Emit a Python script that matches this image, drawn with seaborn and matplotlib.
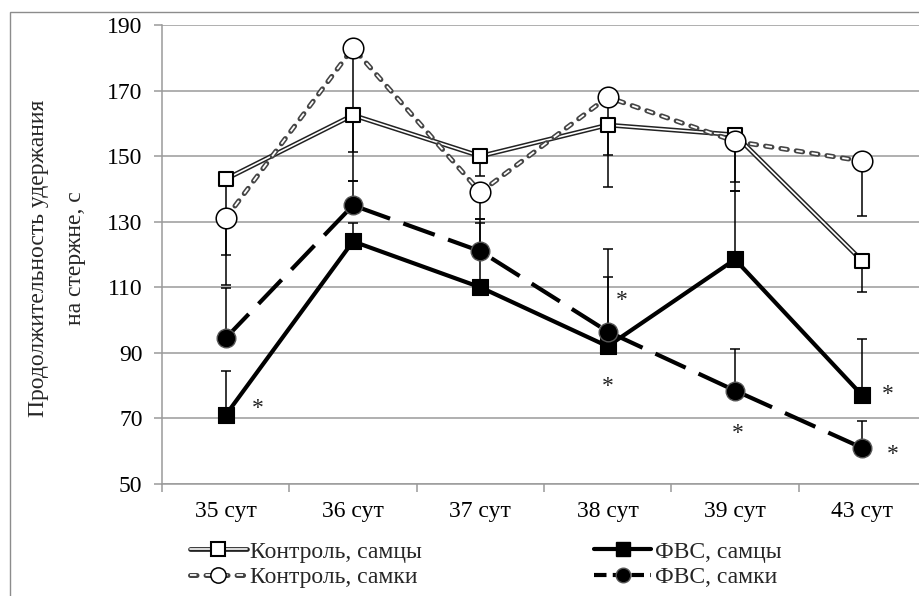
import numpy as np
import pandas as pd
import matplotlib
matplotlib.use("Agg")
import matplotlib.pyplot as plt
import matplotlib.patheffects as pe
from matplotlib.lines import Line2D
from matplotlib.patches import Rectangle
import seaborn as sns

days = ["35 сут", "36 сут", "37 сут", "38 сут", "39 сут", "43 сут"]

ctrl_m = [143, 162.5, 150, 159.5, 156.5, 118]
ctrl_f = [131, 183, 139, 168, 154.5, 148.5]
fvs_m = [71, 124, 110, 92, 118.5, 77]
fvs_f = [94.5, 135, 121, 96.5, 78.5, 61]

# one-sided error bars: controls down, FVS up
ctrl_m_err = [23, 11.2, 6, 9, 14.5, 9.4]
ctrl_f_err = [20.4, 40.6, 8.2, 27.4, 15.1, 16.7]
fvs_m_err = [13.5, 5.6, 19.6, 21, 21, 17.3]
fvs_f_err = [15.3, 7.4, 9.8, 25.2, 12.7, 8.3]

# significance marks (x in category units, y in seconds)
star_x = [0.25, 3.11, 3.0, 4.02, 5.2, 5.24]
star_y = [73.0, 106.0, 79.8, 65.5, 77.4, 59.1]

labels = ["Контроль, самцы", "Контроль, самки", "ФВС, самцы", "ФВС, самки"]

sns.set_theme(style="white")
plt.rcParams["font.family"] = ["Liberation Serif", "DejaVu Serif"]
FS = 17

df = pd.DataFrame({
    "pos": np.arange(len(days)),
    "ctrl_m": ctrl_m, "ctrl_f": ctrl_f, "fvs_m": fvs_m, "fvs_f": fvs_f,
})

fig = plt.figure(figsize=(9.19, 5.96), dpi=100)
ax = fig.add_axes([162 / 919, 112 / 596, 764 / 919, 459 / 596])

grid_c = "#9a9a9a"
for v in range(50, 191, 20):
    ax.axhline(v, color=grid_c, lw=1.1, zorder=0)

# error bars (behind markers)
pos = df["pos"].values
zeros = np.zeros(len(days))
eb = dict(fmt="none", ecolor="black", elinewidth=1.1, capsize=3.6, capthick=1.1, zorder=2)
ax.errorbar(pos, ctrl_m, yerr=[ctrl_m_err, zeros], **eb)
ax.errorbar(pos, ctrl_f, yerr=[ctrl_f_err, zeros], **eb)
ax.errorbar(pos, fvs_m, yerr=[zeros, fvs_m_err], **eb)
ax.errorbar(pos, fvs_f, yerr=[zeros, fvs_f_err], **eb)

# lines
dbl = [pe.Stroke(linewidth=3.4, foreground="#222222"), pe.Normal()]
dbl_dash = [pe.Stroke(linewidth=3.6, foreground="#444444", capstyle="round"), pe.Normal()]

sns.lineplot(data=df, x="pos", y="fvs_m", ax=ax, color="black", lw=3, zorder=3)
ax.lines[-1].set_solid_capstyle("butt")
sns.lineplot(data=df, x="pos", y="fvs_f", ax=ax, color="black", lw=3, zorder=3)
ax.lines[-1].set_linestyle((0, (8, 3.4)))
sns.lineplot(data=df, x="pos", y="ctrl_m", ax=ax, color="white", lw=1.2, zorder=4)
ax.lines[-1].set_path_effects(dbl)
sns.lineplot(data=df, x="pos", y="ctrl_f", ax=ax, color="white", lw=1.3, zorder=4)
ax.lines[-1].set_linestyle((0, (3.6, 5.0)))
ax.lines[-1].set_dash_capstyle("butt")
ax.lines[-1].set_path_effects(dbl_dash)

# markers
sns.scatterplot(data=df, x="pos", y="fvs_m", ax=ax, marker="s", s=120, color="black", edgecolor="black", linewidth=0.8, zorder=5)
sns.scatterplot(data=df, x="pos", y="fvs_f", ax=ax, marker="o", s=180, color="black", edgecolor="#555555", linewidth=1.0, zorder=5)
sns.scatterplot(data=df, x="pos", y="ctrl_m", ax=ax, marker="s", s=115, color="white", edgecolor="black", linewidth=1.5, zorder=6)
sns.scatterplot(data=df, x="pos", y="ctrl_f", ax=ax, marker="o", s=220, color="white", edgecolor="black", linewidth=1.1, zorder=6)

for sx, sy in zip(star_x, star_y):
    ax.text(sx, sy, "*", fontsize=FS, ha="center", va="center", color="#222222", zorder=7)

ax.set_xlim(-0.5, len(days) - 0.5)
ax.set_ylim(50, 190)
ax.set_yticks(range(50, 191, 20))
ax.set_xticks(pos)
ax.set_xticklabels(days)
ax.set_xticks(np.arange(-0.5, len(days)), minor=True)
ax.set_xlabel("")
ax.set_ylabel("")
ax.tick_params(axis="x", which="major", length=0, pad=12, labelsize=FS, labelcolor="black")
ax.tick_params(axis="x", which="minor", length=6, width=1.1, color=grid_c, direction="out", bottom=True)
ax.tick_params(axis="y", length=6, width=1.1, color=grid_c, direction="out", pad=8, labelsize=FS, labelcolor="black", left=True)
for side in ["top", "right"]:
    ax.spines[side].set_visible(False)
for side in ["left", "bottom"]:
    ax.spines[side].set_color(grid_c)
    ax.spines[side].set_linewidth(1.1)

fig.text(57 / 919, 1 - 258 / 596, "Продолжительность удержания\nна стержне, с", rotation=90,
         ha="center", va="center", multialignment="center", fontsize=FS, linespacing=2.05)

# legend proxies
h_cm = (Line2D([], [], color="white", lw=1.2, path_effects=dbl),
        Line2D([], [], ls="", marker="s", ms=10, mfc="white", mec="black", mew=1.5))
h_cf = (Line2D([], [], color="white", lw=1.3, ls=(0, (3.6, 5.0)), dash_capstyle="butt", path_effects=dbl_dash),
        Line2D([], [], ls="", marker="o", ms=11, mfc="white", mec="black", mew=1.1))
h_fm = (Line2D([], [], color="black", lw=3),
        Line2D([], [], ls="", marker="s", ms=10, mfc="black", mec="black"))
h_ff = (Line2D([], [], color="black", lw=3, ls=(0, (3, 1.5))),
        Line2D([], [], ls="", marker="o", ms=10.5, mfc="black", mec="#555555"))
fig.legend([h_cm, h_cf, h_fm, h_ff], labels, ncol=2, frameon=False,
           loc="upper left", bbox_to_anchor=(190 / 919, 1 - 541 / 596),
           fontsize=FS, handlelength=2.4, handletextpad=0.15, columnspacing=7.3,
           labelspacing=0.18, borderpad=0, borderaxespad=0)

fig.patches.append(Rectangle((10 / 919, -0.1), 1.1, 1.1 - 12 / 596, transform=fig.transFigure,
                             fill=False, edgecolor="#8c8c8c", lw=1.0))

fig.savefig("out.png", dpi=100)
